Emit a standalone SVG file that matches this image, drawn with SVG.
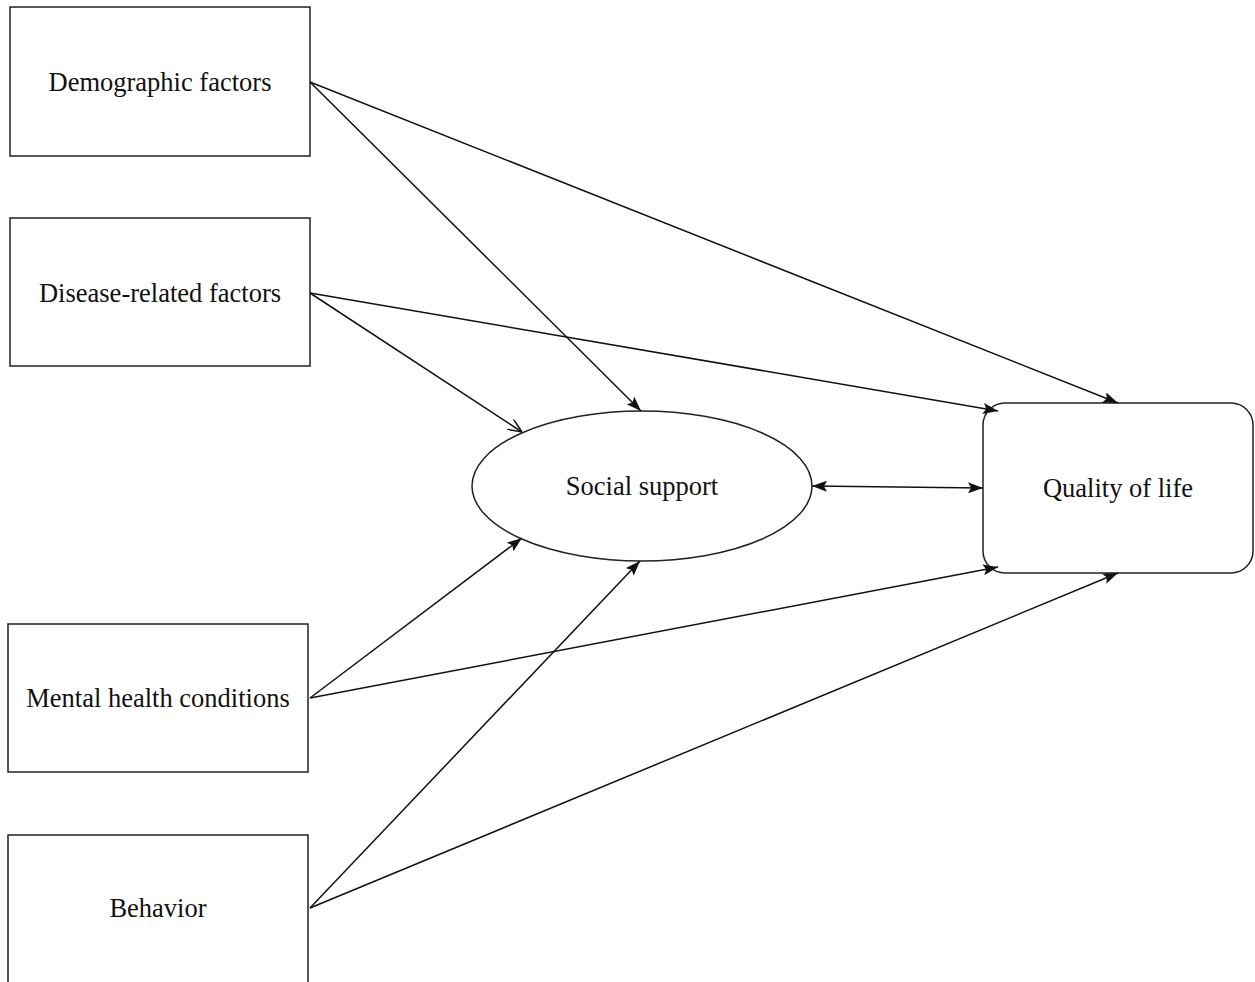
<svg xmlns="http://www.w3.org/2000/svg" width="1255" height="982" viewBox="0 0 1255 982">
  <defs>
    <marker id="head" viewBox="0 0 15 11" refX="15" refY="5.5" markerWidth="15" markerHeight="11" markerUnits="userSpaceOnUse" orient="auto-start-reverse">
      <path d="M0,0 L15,5.5 L0,11 L3,5.5 Z" fill="#111"/>
    </marker>
    <marker id="open" viewBox="0 0 14 12" refX="14" refY="6" markerWidth="14" markerHeight="12" markerUnits="userSpaceOnUse" orient="auto">
      <path d="M0,0 L14,6 L0,12" fill="none" stroke="#111" stroke-width="1.5"/>
    </marker>
  </defs>
  <style>
    .box { fill: #fff; stroke: #222; stroke-width: 1.5; }
    .label { font-family: "Liberation Serif", "Times New Roman", serif; font-size: 26.5px; fill: #111; text-anchor: middle; dominant-baseline: central; }
    .edge { stroke: #111; stroke-width: 1.5; fill: none; }
  </style>
  <rect width="1255" height="982" fill="#fff"/>

  <g id="demographic">
    <rect class="box" x="10" y="7" width="300" height="149"/>
    <text class="label" x="160" y="82">Demographic factors</text>
  </g>
  <g id="disease">
    <rect class="box" x="10" y="218" width="300" height="148"/>
    <text class="label" x="160" y="293">Disease-related factors</text>
  </g>
  <g id="mental">
    <rect class="box" x="8" y="624" width="300" height="148"/>
    <text class="label" x="158" y="698">Mental health conditions</text>
  </g>
  <g id="behavior">
    <rect class="box" x="8" y="835" width="300" height="160"/>
    <text class="label" x="158" y="908">Behavior</text>
  </g>
  <g id="social-support">
    <ellipse class="box" cx="642" cy="486" rx="170" ry="75"/>
    <text class="label" x="642" y="486">Social support</text>
  </g>
  <g id="quality-of-life">
    <rect class="box" x="983" y="403" width="270" height="170" rx="22" ry="22"/>
    <text class="label" x="1118" y="488">Quality of life</text>
  </g>

  <g id="connectors">
    <line class="edge" x1="310" y1="82" x2="1118" y2="403" marker-end="url(#head)"/>
    <line class="edge" x1="310" y1="82" x2="641" y2="411" marker-end="url(#head)"/>
    <line class="edge" x1="310" y1="293" x2="522" y2="432" marker-end="url(#open)"/>
    <line class="edge" x1="310" y1="293" x2="998" y2="411" marker-end="url(#head)"/>
    <line class="edge" x1="310" y1="698" x2="522" y2="538" marker-end="url(#head)"/>
    <line class="edge" x1="310" y1="698" x2="998" y2="567" marker-end="url(#head)"/>
    <line class="edge" x1="310" y1="908" x2="640" y2="561" marker-end="url(#head)"/>
    <line class="edge" x1="310" y1="908" x2="1118" y2="573" marker-end="url(#head)"/>
    <line class="edge" x1="812" y1="486" x2="983" y2="488" marker-start="url(#head)" marker-end="url(#head)"/>
  </g>
</svg>
